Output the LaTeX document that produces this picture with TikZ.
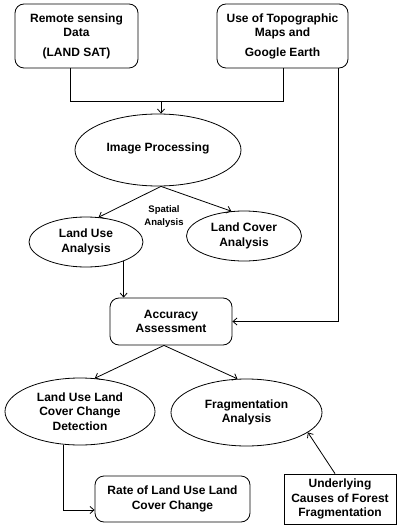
\documentclass[tikz,border=0pt]{standalone}
\usepackage{fontspec}
\setmainfont{Liberation Sans}
\usetikzlibrary{shapes.geometric,arrows.meta}
\begin{document}
\begin{tikzpicture}[x=1pt,y=-1pt,
  every node/.style={font=\fontsize{12}{14.5}\selectfont\bfseries, align=center, inner sep=0pt},
  rbox/.style={draw, rounded corners=9pt, line width=0.8pt},
  sbox/.style={draw, line width=0.8pt},
  ell/.style={draw, ellipse, line width=0.8pt},
  conn/.style={line width=0.8pt},
  arr/.style={line width=0.8pt, -{Straight Barb[length=4pt,width=7pt]}}]
\useasboundingbox (0,0) rectangle (405,529);
\node[rbox, minimum width=123pt, minimum height=64pt] (rs) at (76.5,36) {Remote sensing\\Data\\[5pt](LAND SAT)};
\node[rbox, minimum width=131pt, minimum height=64pt] (tm) at (282.5,36) {Use of Topographic\\Maps and\\[5pt]Google Earth};
\node[ell, minimum width=166pt, minimum height=72pt] (ip) at (158,150) {\raisebox{5pt}{Image Processing}};
\node[ell, minimum width=114pt, minimum height=50pt] (lu) at (86,242) {Land Use\\Analysis};
\node[ell, minimum width=115pt, minimum height=50pt] (lc) at (244,236) {Land Cover\\Analysis};
\node[font=\fontsize{9.5}{13}\selectfont\bfseries] (sa) at (164,217) {Spatial\\Analysis};
\node[rbox, minimum width=122pt, minimum height=47pt] (acc) at (171,321.5) {Accuracy\\Assessment};
\node[ell, minimum width=150pt, minimum height=67pt] (lulc) at (80,411.5) {Land Use Land\\Cover Change\\Detection};
\node[ell, minimum width=151pt, minimum height=67pt] (frag) at (246.5,412.5) {Fragmentation\\Analysis};
\node[rbox, minimum width=155pt, minimum height=46pt] (rate) at (172.5,499) {Rate of Land Use Land\\Cover Change};
\node[sbox, minimum width=112pt, minimum height=50pt] (und) at (340,499) {Underlying\\Causes of Forest\\Fragmentation};
\coordinate (j1) at (70,101);
\coordinate (j2) at (283,101);
\coordinate (jm) at (161,101);
\coordinate (r1) at (338,321.5);
\draw[conn] (rs.south -| j1) -- (j1) -- (j2) -- (tm.south -| j2);
\draw[arr] (jm) -- (ip.north -| jm);
\draw[conn] (tm.south -| r1) -- (r1);
\draw[arr] (r1) -- (acc.east);
\draw[arr] ([xshift=3pt]ip.south) -- (lu.63);
\draw[arr] ([xshift=3pt]ip.south) -- (lc.117);
\draw[arr] (lu.-27) -- (acc.north -| lu.-27);
\draw[arr] ([xshift=-7pt]acc.south) -- (lulc.66);
\draw[arr] ([xshift=-7pt]acc.south) -- (frag.105);
\draw[arr] (lulc.-117) |- ([yshift=-11pt]rate.west);
\draw[arr] ([xshift=-5pt]und.north) -- (frag.-18);
\end{tikzpicture}
\end{document}
